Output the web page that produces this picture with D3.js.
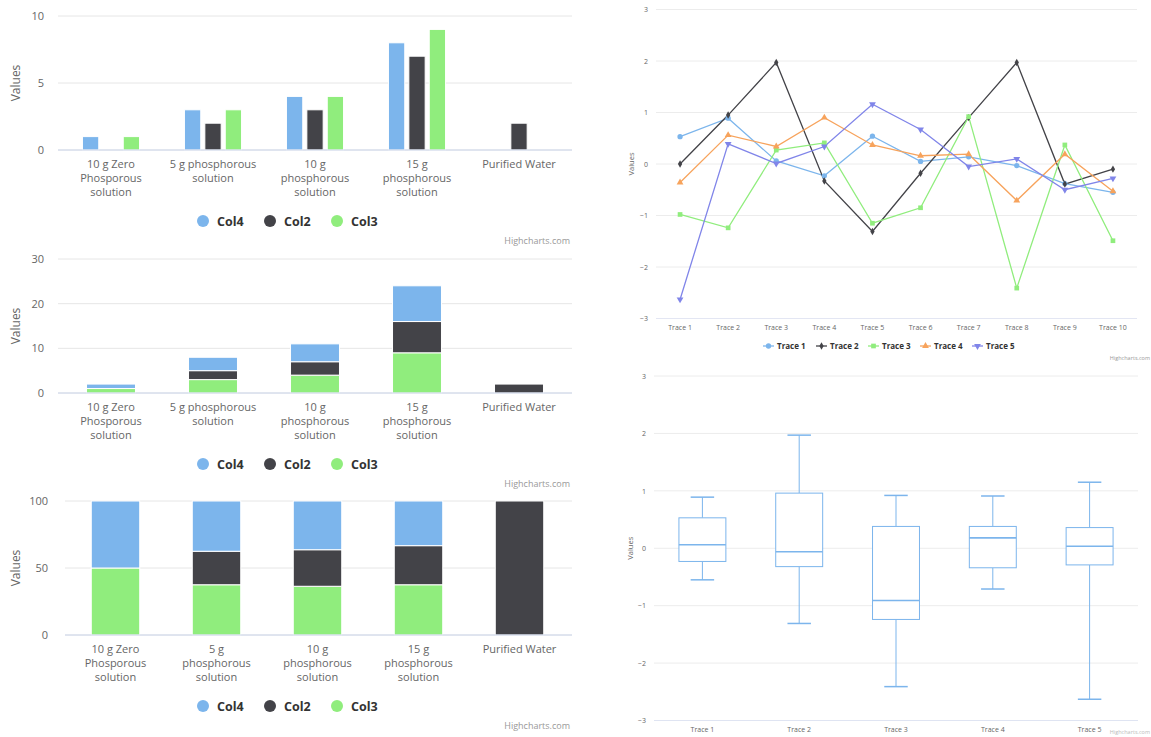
<!DOCTYPE html>
<html><head><meta charset="utf-8">
<script src="https://cdn.jsdelivr.net/npm/d3@7"></script>
<style>body{margin:0;background:#fff;} svg{display:block;font-family:"Open Sans","DejaVu Sans",sans-serif;}</style>
</head><body><svg id="c" width="1151" height="737"></svg>
<script>
// ---------- data ----------
const categories = ["10 g Zero Phosporous solution","5 g phosphorous solution","10 g phosphorous solution","15 g phosphorous solution","Purified Water"];
const labelsWide = [["10 g Zero","Phosporous","solution"],["5 g phosphorous","solution"],["10 g","phosphorous","solution"],["15 g","phosphorous","solution"],["Purified Water"]];
const labelsNarrow = [["10 g Zero","Phosporous","solution"],["5 g","phosphorous","solution"],["10 g","phosphorous","solution"],["15 g","phosphorous","solution"],["Purified Water"]];
const seriesNames = ["Col4","Col2","Col3"];
const col4 = [1,3,4,8,0];
const col2 = [0,2,3,7,2];
const col3 = [1,3,4,9,0];
const seriesColors = ["#7cb5ec","#434348","#90ed7d"];
const ticksA = [0,5,10];
const ticksB = [0,10,20,30];
const ticksC = [0,50,100];

const traceCats = ["Trace 1","Trace 2","Trace 3","Trace 4","Trace 5","Trace 6","Trace 7","Trace 8","Trace 9","Trace 10"];
const traceNames = ["Trace 1","Trace 2","Trace 3","Trace 4","Trace 5"];
const trace1 = [0.53,0.89,0.06,-0.23,0.54,0.05,0.14,-0.03,-0.38,-0.55];
const trace2 = [0.00,0.95,1.97,-0.33,-1.31,-0.18,0.90,1.97,-0.39,-0.10];
const trace3 = [-0.98,-1.24,0.27,0.41,-1.15,-0.85,0.92,-2.41,0.37,-1.49];
const trace4 = [-0.36,0.56,0.34,0.90,0.37,0.16,0.19,-0.71,0.19,-0.53];
const trace5 = [-2.63,0.39,0.01,0.34,1.16,0.67,-0.05,0.10,-0.50,-0.28];
const traceColors = ["#7cb5ec","#434348","#90ed7d","#f7a35c","#8085e9"];
const traceTicks = [-3,-2,-1,0,1,2,3];

const boxCats = ["Trace 1","Trace 2","Trace 3","Trace 4","Trace 5"];
const boxMin = [-0.55,-1.31,-2.41,-0.71,-2.63];
const boxQ1  = [-0.23,-0.32,-1.24,-0.34,-0.29];
const boxMed = [0.06,-0.06,-0.91,0.18,0.035];
const boxQ3  = [0.53,0.96,0.38,0.38,0.36];
const boxMax = [0.89,1.97,0.92,0.91,1.15];

// ---------- helpers ----------
const svg = d3.select("#c");
const GRID = "#e6e6e6", AXIS = "#ccd6eb", LBL = "#666666";

function barChart(o) {
  const g = svg.append("g");
  const x = d3.scaleBand().domain(d3.range(categories.length)).range([o.x0, o.x1]);
  const y = d3.scaleLinear().domain([0, o.max]).range([o.y0, o.yTop]);
  g.selectAll(".grid").data(o.ticks).join("line")
    .attr("x1", o.gx0).attr("x2", o.gx1).attr("y1", d => y(d)).attr("y2", d => y(d))
    .attr("stroke", GRID).attr("stroke-width", 1);
  const ya = d3.axisLeft(y).tickValues(o.ticks).tickSize(0).tickPadding(0);
  const yg = g.append("g").attr("transform", `translate(${o.labelX},0)`).call(ya);
  yg.select(".domain").remove();
  yg.selectAll("text").attr("fill", LBL).style("font-size", "11px").style("font-family", '"Open Sans",sans-serif');
  g.append("text").attr("transform", `translate(16,${(o.y0 + o.yTop) / 2}) rotate(-90)`)
    .attr("text-anchor", "middle").attr("dy", "0.35em").attr("fill", LBL).style("font-size", "12px").text("Values");
  const data = categories.map((c, i) => ({i, Col4: col4[i], Col2: col2[i], Col3: col3[i]}));
  if (o.mode === "group") {
    const inner = d3.scaleBand().domain(seriesNames)
      .range([x.bandwidth() * 0.2, x.bandwidth() * 0.8]).paddingInner(0.2).paddingOuter(0.1);
    seriesNames.forEach((s, si) => {
      g.selectAll(".b" + s).data(data.filter(d => d[s] > 0)).join("rect")
        .attr("x", d => x(d.i) + inner(s)).attr("width", inner.bandwidth())
        .attr("y", d => y(d[s])).attr("height", d => y(0) - y(d[s]))
        .attr("fill", seriesColors[si]).attr("stroke", "#fff").attr("stroke-width", 1);
    });
  } else {
    const keys = ["Col3", "Col2", "Col4"];
    const st = d3.stack().keys(keys);
    if (o.mode === "percent") st.offset(d3.stackOffsetExpand);
    const layers = st(data);
    const k = o.mode === "percent" ? 100 : 1;
    const bw = x.bandwidth() * 0.48;
    layers.forEach(layer => {
      const si = seriesNames.indexOf(layer.key);
      g.selectAll(".s" + layer.key).data(layer.filter(d => d[1] - d[0] > 0)).join("rect")
        .attr("x", d => x(d.data.i) + (x.bandwidth() - bw) / 2).attr("width", bw)
        .attr("y", d => y(d[1] * k)).attr("height", d => y(d[0] * k) - y(d[1] * k))
        .attr("fill", seriesColors[si]).attr("stroke", "#fff").attr("stroke-width", 1);
    });
  }
  g.append("line").attr("x1", o.gx0).attr("x2", o.gx1).attr("y1", o.y0).attr("y2", o.y0)
    .attr("stroke", AXIS).attr("stroke-width", 1);
  o.labels.forEach((lines, i) => {
    const t = g.append("text").attr("x", x(i) + x.bandwidth() / 2).attr("y", o.y0 + 18)
      .attr("text-anchor", "middle").attr("fill", LBL).style("font-size", "11px");
    lines.forEach((l, j) => t.append("tspan").attr("x", x(i) + x.bandwidth() / 2).attr("dy", j ? 14 : 0).text(l));
  });
  const ly = o.y0 + 71;
  const lx = [203, 270, 337];
  seriesNames.forEach((s, si) => {
    g.append("circle").attr("cx", lx[si]).attr("cy", ly).attr("r", 6).attr("fill", seriesColors[si]);
    g.append("text").attr("x", lx[si] + 14).attr("y", ly).attr("dy", "0.36em")
      .attr("fill", "#333").style("font-size", "12.5px").style("font-weight", "bold").text(s);
  });
  g.append("text").attr("x", 570).attr("y", o.y0 + 91).attr("dy", "0.35em").attr("text-anchor", "end")
    .attr("fill", "#999").style("font-size", "9px").text("Highcharts.com");
}

barChart({mode: "group", x0: 60, x1: 570, gx0: 58, gx1: 572, yTop: 16, y0: 150, max: 10, ticks: ticksA, labelX: 44, labels: labelsWide});
barChart({mode: "stack", x0: 60, x1: 570, gx0: 58, gx1: 572, yTop: 259, y0: 393, max: 30, ticks: ticksB, labelX: 44, labels: labelsWide});
barChart({mode: "percent", x0: 65, x1: 570, gx0: 65, gx1: 572, yTop: 501, y0: 635, max: 100, ticks: ticksC, labelX: 48, labels: labelsNarrow});

// ---------- line chart ----------
(function () {
  const g = svg.append("g");
  const x0 = 656, x1 = 1137, yTop = 9.5, yBot = 318.5;
  const x = d3.scaleBand().domain(traceCats).range([x0, x1]);
  const y = d3.scaleLinear().domain([-3, 3]).range([yBot, yTop]);
  g.selectAll(".grid").data(traceTicks).join("line")
    .attr("x1", x0).attr("x2", x1).attr("y1", d => y(d)).attr("y2", d => y(d))
    .attr("stroke", d => d === -3 ? "#e3e6f3" : "#ececec").attr("stroke-width", 1);
  const yg = g.append("g").attr("transform", "translate(648,0)")
    .call(d3.axisLeft(y).tickValues(traceTicks).tickSize(0).tickPadding(0).tickFormat(d3.format("d")));
  yg.select(".domain").remove();
  yg.selectAll("text").attr("fill", LBL).style("font-size", "7px").style("font-family", '"Open Sans",sans-serif');
  g.append("text").attr("transform", `translate(631,${y(0)}) rotate(-90)`).attr("text-anchor", "middle")
    .attr("dy", "0.35em").attr("fill", LBL).style("font-size", "7.5px").text("Values");
  g.selectAll(".xl").data(traceCats).join("text")
    .attr("x", d => x(d) + x.bandwidth() / 2).attr("y", 327.5).attr("dy", "0.35em")
    .attr("text-anchor", "middle").attr("fill", LBL).style("font-size", "7px").text(d => d);
  const traces = [trace1, trace2, trace3, trace4, trace5];
  const syms = [d3.symbolCircle, d3.symbolDiamond, d3.symbolSquare, d3.symbolTriangle, d3.symbolTriangle];
  const sizes = [22, 16, 22, 20, 20];
  const line = d3.line().x((d, i) => x(traceCats[i]) + x.bandwidth() / 2).y(d => y(d));
  traces.forEach((t, ti) => {
    g.append("path").datum(t).attr("d", line).attr("fill", "none")
      .attr("stroke", traceColors[ti]).attr("stroke-width", 1.3);
  });
  traces.forEach((t, ti) => {
    g.selectAll(".m" + ti).data(t).join("path")
      .attr("transform", (d, i) => `translate(${x(traceCats[i]) + x.bandwidth() / 2},${y(d)})` + (ti === 4 ? " rotate(180)" : ""))
      .attr("d", d3.symbol().type(syms[ti]).size(sizes[ti])).attr("fill", traceColors[ti]);
  });
  const lx = [763, 816, 868, 920, 972];
  traceNames.forEach((n, i) => {
    const ly = 346;
    g.append("line").attr("x1", lx[i]).attr("x2", lx[i] + 11).attr("y1", ly).attr("y2", ly)
      .attr("stroke", traceColors[i]).attr("stroke-width", 1.3);
    g.append("path").attr("transform", `translate(${lx[i] + 5.5},${ly})` + (i === 4 ? " rotate(180)" : ""))
      .attr("d", d3.symbol().type(syms[i]).size(sizes[i])).attr("fill", traceColors[i]);
    g.append("text").attr("x", lx[i] + 14).attr("y", ly).attr("dy", "0.35em").attr("fill", "#333")
      .style("font-size", "8px").style("font-weight", "bold").text(n);
  });
  g.append("text").attr("x", 1150).attr("y", 358).attr("dy", "0.35em").attr("text-anchor", "end")
    .attr("fill", "#999").style("font-size", "5.5px").text("Highcharts.com");
})();

// ---------- box plot ----------
(function () {
  const g = svg.append("g");
  const x0 = 654, x1 = 1138, yTop = 376, yBot = 720.5;
  const x = d3.scaleBand().domain(boxCats).range([x0, x1]);
  const y = d3.scaleLinear().domain([-3, 3]).range([yBot, yTop]);
  g.selectAll(".grid").data(traceTicks).join("line")
    .attr("x1", x0).attr("x2", x1).attr("y1", d => y(d)).attr("y2", d => y(d))
    .attr("stroke", d => d === -3 ? "#dfe4f2" : "#ececec").attr("stroke-width", 1);
  const yg = g.append("g").attr("transform", "translate(646,0)")
    .call(d3.axisLeft(y).tickValues(traceTicks).tickSize(0).tickPadding(0).tickFormat(d3.format("d")));
  yg.select(".domain").remove();
  yg.selectAll("text").attr("fill", LBL).style("font-size", "7px").style("font-family", '"Open Sans",sans-serif');
  g.append("text").attr("transform", `translate(630,${y(0)}) rotate(-90)`).attr("text-anchor", "middle")
    .attr("dy", "0.35em").attr("fill", LBL).style("font-size", "7.5px").text("Values");
  g.selectAll(".xl").data(boxCats).join("text")
    .attr("x", d => x(d) + x.bandwidth() / 2).attr("y", 729.5).attr("dy", "0.35em")
    .attr("text-anchor", "middle").attr("fill", LBL).style("font-size", "7px").text(d => d);
  const bw = x.bandwidth() * 0.485, ww = bw * 0.5;
  const C = "#7cb5ec";
  boxCats.forEach((c, i) => {
    const cx = x(c) + x.bandwidth() / 2;
    g.append("line").attr("x1", cx).attr("x2", cx).attr("y1", y(boxMax[i])).attr("y2", y(boxQ3[i])).attr("stroke", C).attr("stroke-width", 1);
    g.append("line").attr("x1", cx).attr("x2", cx).attr("y1", y(boxQ1[i])).attr("y2", y(boxMin[i])).attr("stroke", C).attr("stroke-width", 1);
    g.append("line").attr("x1", cx - ww / 2).attr("x2", cx + ww / 2).attr("y1", y(boxMax[i])).attr("y2", y(boxMax[i])).attr("stroke", C).attr("stroke-width", 1.5);
    g.append("line").attr("x1", cx - ww / 2).attr("x2", cx + ww / 2).attr("y1", y(boxMin[i])).attr("y2", y(boxMin[i])).attr("stroke", C).attr("stroke-width", 1.5);
    g.append("rect").attr("x", cx - bw / 2).attr("width", bw).attr("y", y(boxQ3[i])).attr("height", y(boxQ1[i]) - y(boxQ3[i]))
      .attr("fill", "#fff").attr("stroke", C).attr("stroke-width", 1);
    g.append("line").attr("x1", cx - bw / 2).attr("x2", cx + bw / 2).attr("y1", y(boxMed[i])).attr("y2", y(boxMed[i])).attr("stroke", C).attr("stroke-width", 1.6);
  });
  g.append("text").attr("x", 1150).attr("y", 734).attr("text-anchor", "end")
    .attr("fill", "#bbb").style("font-size", "5.5px").text("Highcharts.com");
})();
</script></body></html>
